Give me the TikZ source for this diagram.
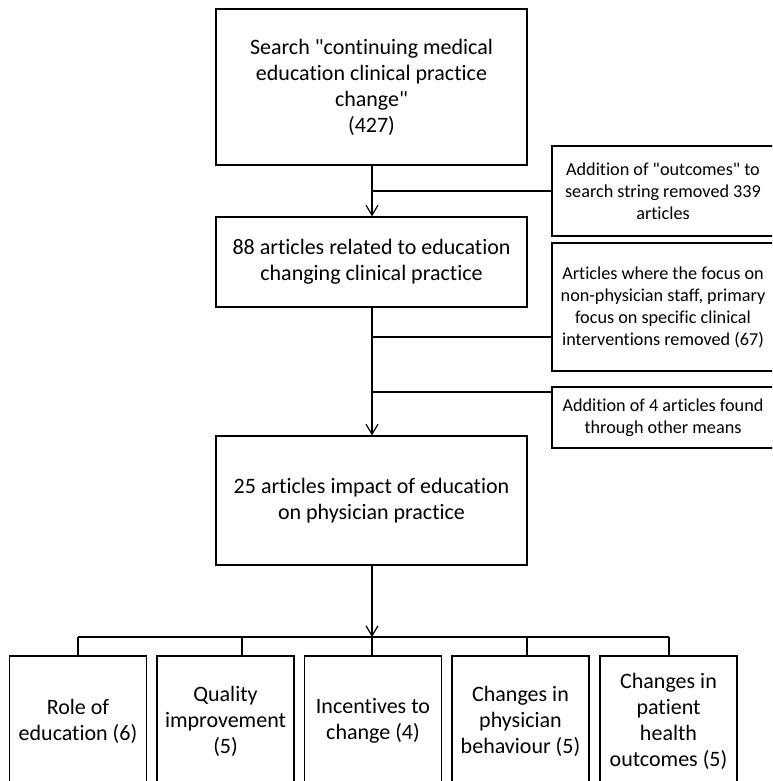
\documentclass[tikz,border=0pt]{standalone}
\usepackage{fontspec}
% plain Carlito: straight quotes, no ti/fi ligatures
\newfontfamily\boxfont{Carlito}[Ligatures=NoCommon]
\usetikzlibrary{arrows.meta,calc}

\tikzset{
  box/.style={draw, line width=1.2pt, rectangle, align=center, inner sep=2pt,
    font=\boxfont\fontsize{22}{26}\selectfont},
  sidebox/.style={box, font=\boxfont\fontsize{18.2}{22}\selectfont},
  link/.style={line width=1.2pt},
  arr/.style={link, -{Straight Barb[length=10pt,width=12pt,line width=1.2pt]}}
}

\begin{document}
\begin{tikzpicture}[x=1pt,y=-1pt]
  \useasboundingbox (0,0) rectangle (772,781);
  \clip (0,0) rectangle (772,781);

  % main column
  \node[box, minimum width=311, minimum height=156] (search) at (371.5,87)
    {Search "continuing medical\\education clinical practice\\change"\\(427)};
  \node[box, minimum width=311, minimum height=90] (related) at (371.5,262)
    {88 articles related to education\\changing clinical practice};
  \node[box, minimum width=311, minimum height=129] (impact) at (371.5,500.5)
    {25 articles impact of education\\on physician practice};

  % side notes
  \node[sidebox, minimum width=222, minimum height=90] (outcomes) at (663,191)
    {Addition of "outcomes" to\\search string removed 339\\articles};
  \node[sidebox, minimum width=222, minimum height=128] (focus) at (663,307)
    {Articles where the focus on\\non-physician staff, primary\\focus on specific clinical\\interventions removed (67)};
  \node[sidebox, minimum width=222, minimum height=61] (other) at (663,417.5)
    {Addition of 4 articles found\\through other means};

  % categories
  \node[box, minimum width=137, minimum height=130] (role) at (78,721)
    {Role of\\education (6)};
  \node[box, minimum width=137, minimum height=130] (quality) at (225.5,721)
    {Quality\\improvement\\(5)};
  \node[box, minimum width=137, minimum height=130] (incent) at (373,721)
    {Incentives to\\change (4)};
  \node[box, minimum width=137, minimum height=130] (behav) at (520.5,721)
    {Changes in\\physician\\behaviour (5)};
  \node[box, minimum width=137, minimum height=130] (patient) at (668.5,721)
    {Changes in\\patient\\health\\outcomes (5)};

  % junction points
  \coordinate (j1) at (372,191);
  \coordinate (j2) at (372,337);
  \coordinate (j3) at (372,392);
  \coordinate (hub) at (372,637);
  \coordinate (t1) at (78,637);
  \coordinate (t2) at (242,637);
  \coordinate (t4) at (527,637);
  \coordinate (t5) at (669,637);

  % flow
  \draw[arr] (search.south -| j1) -- (related.north -| j1);
  \draw[link] (j1) -- (j1 -| outcomes.west);
  \draw[arr] (related.south -| j2) -- (impact.north -| j2);
  \draw[link] (j2) -- (j2 -| focus.west);
  \draw[link] (j3) -- (j3 -| other.west);
  \draw[arr] (impact.south -| hub) -- (hub);

  % distribution bus
  \draw[link] (t1) -- (t5);
  \draw[link] (t1) -- (t1 |- role.north);
  \draw[link] (t2) -- (t2 |- quality.north);
  \draw[link] (hub) -- (hub |- incent.north);
  \draw[link] (t4) -- (t4 |- behav.north);
  \draw[link] (t5) -- (t5 |- patient.north);
\end{tikzpicture}
\end{document}
